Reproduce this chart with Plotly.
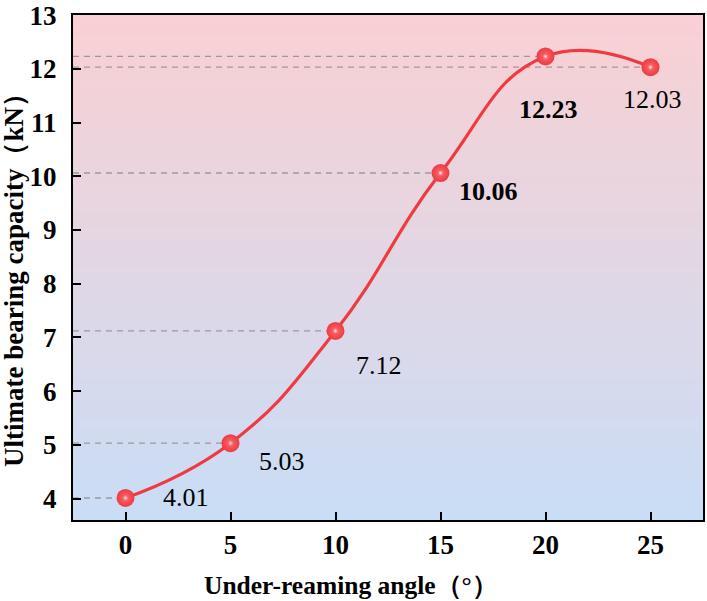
import plotly.graph_objects as go

# ---- data ----
angles = [0, 5, 10, 15, 20, 25]
capacity = [4.01, 5.03, 7.12, 10.06, 12.23, 12.03]
label_text = ["4.01", "5.03", "7.12", "10.06", "12.23", "12.03"]
label_bold = [False, False, False, True, True, False]
label_dx = [60, 51, 43, 48, 3, 2]
label_dy = [0, -18, -35, -18, -53, -32]
x_ticks = [0, 5, 10, 15, 20, 25]
y_ticks = [4, 5, 6, 7, 8, 9, 10, 11, 12, 13]
x_title = "Under-reaming angle（°）"
y_title = "Ultimate bearing capacity（kN）"

X_RANGE = [-2.5, 27.5]
Y_RANGE = [3.6, 13.002]
FONT = "Times New Roman, Liberation Serif, serif"
RED = "#ef3a42"

fig = go.Figure()

# gradient background (pink top -> light blue bottom)
top = (249, 208, 211)
bot = (201, 221, 246)
n = 100
shapes = []
for i in range(n):
    t = i / (n - 1)
    c = tuple(round(bot[k] + (top[k] - bot[k]) * t) for k in range(3))
    shapes.append(dict(type="rect", xref="paper", yref="paper",
                       x0=0, x1=1, y0=i / n, y1=min(1, (i + 2) / n),
                       fillcolor="rgb(%d,%d,%d)" % c, line=dict(width=0),
                       layer="below"))

# dashed guide lines
gx, gy = [], []
for a, c in zip(angles, capacity):
    gx += [X_RANGE[0], a, None]
    gy += [c, c, None]
fig.add_trace(go.Scatter(x=gx, y=gy, mode="lines",
                         line=dict(color="#9a9a9a", width=1.3, dash="6px,5px"),
                         hoverinfo="skip", showlegend=False))

# smooth curve
fig.add_trace(go.Scatter(x=angles, y=capacity, mode="lines",
                         line=dict(color=RED, width=3.2, shape="spline", smoothing=1.3),
                         showlegend=False))
# sphere markers
fig.add_trace(go.Scatter(x=angles, y=capacity, mode="markers",
                         marker=dict(size=18, color=RED, line=dict(width=0),
                                     gradient=dict(type="radial", color="#f86a70")),
                         showlegend=False))
fig.add_trace(go.Scatter(x=angles, y=capacity, mode="markers",
                         marker=dict(size=7, color="rgba(248,106,112,0)",
                                     gradient=dict(type="radial", color="rgba(255,240,240,1)"),
                                     line=dict(width=0)),
                         showlegend=False, hoverinfo="skip"))

annotations = []
for a, c, t, b, dx, dy in zip(angles, capacity, label_text, label_bold, label_dx, label_dy):
    annotations.append(dict(x=a, y=c, xref="x", yref="y", text=("<b>%s</b>" % t) if b else t,
                            showarrow=False, xshift=dx, yshift=dy,
                            font=dict(family=FONT, size=26, color="black")))

# axis titles placed as annotations (paper coords relative to plot area)
W, H = 707, 601
L, R, T, B = 73, 4, 15, 81
pw, ph = W - L - R, H - T - B
annotations.append(dict(text="<b>%s</b>" % x_title, xref="paper", yref="paper",
                        x=(351 - L) / pw, y=-(585 - T - ph) / ph,
                        xanchor="center", yanchor="middle", showarrow=False,
                        font=dict(family=FONT, size=25.5, color="black")))
annotations.append(dict(text="<b>%s</b>" % y_title, xref="paper", yref="paper",
                        x=(14 - L) / pw, y=1 - (274 - T) / ph, textangle=-90,
                        xanchor="center", yanchor="middle", showarrow=False,
                        font=dict(family=FONT, size=27, color="black")))

axis_common = dict(showline=True, linecolor="black", linewidth=2, mirror=True,
                   ticks="inside", ticklen=8, tickwidth=2, tickcolor="black",
                   showgrid=False, zeroline=False, ticklabeloverflow="allow",
                   automargin=False,
                   tickfont=dict(family=FONT, size=27, color="black", weight="bold"))

fig.update_layout(
    width=W, height=H,
    margin=dict(l=L, r=R, t=T, b=B, autoexpand=False),
    paper_bgcolor="white", plot_bgcolor="white",
    shapes=shapes, annotations=annotations,
    xaxis=dict(range=X_RANGE, tickvals=x_ticks, ticklabelstandoff=0, **axis_common),
    yaxis=dict(range=Y_RANGE, tickvals=y_ticks, ticklabelstandoff=9, **axis_common),
)

fig.write_html("out.html")
